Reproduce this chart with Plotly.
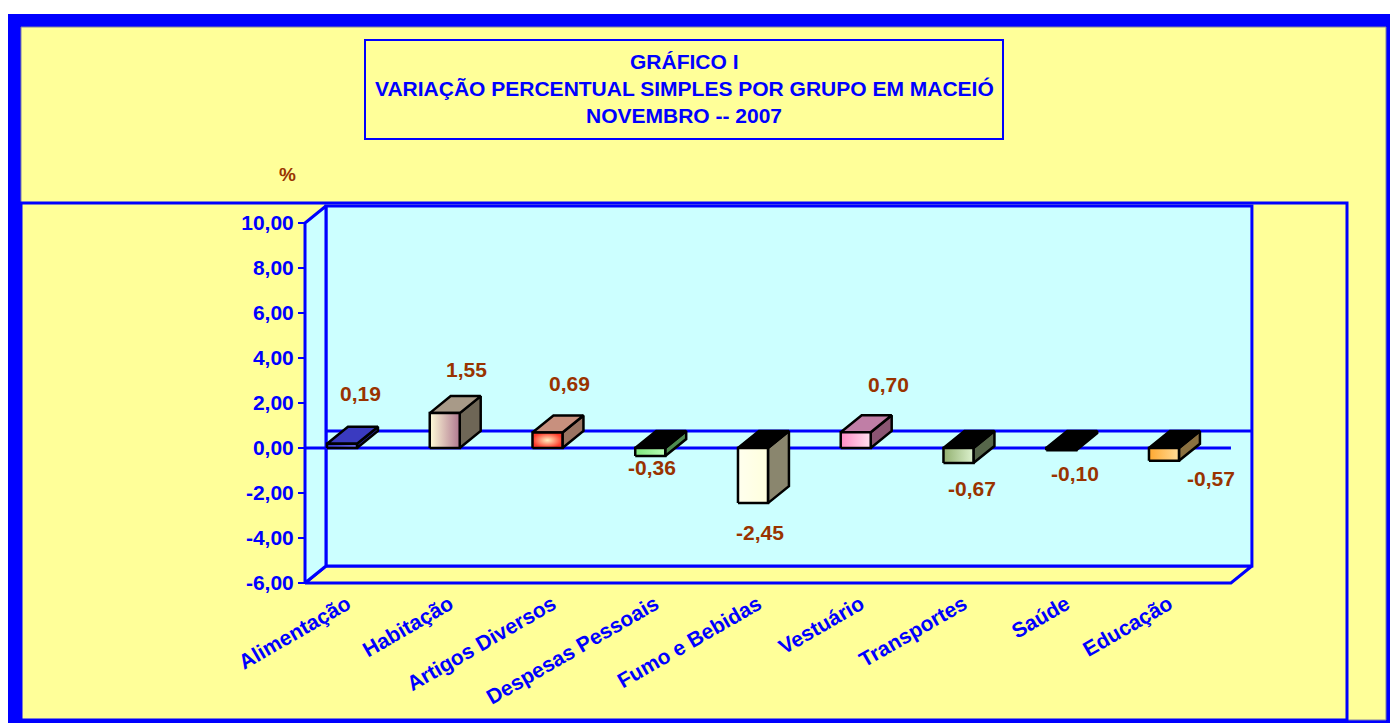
import plotly.graph_objects as go

# ---------------- data ----------------
categories = ["Alimentação", "Habitação", "Artigos Diversos", "Despesas Pessoais",
              "Fumo e Bebidas", "Vestuário", "Transportes", "Saúde", "Educação"]
values = [0.19, 1.55, 0.69, -0.36, -2.45, 0.70, -0.67, -0.10, -0.57]
y_ticks = [-6, -4, -2, 0, 2, 4, 6, 8, 10]
y_tick_labels = ["-6,00", "-4,00", "-2,00", "0,00", "2,00", "4,00", "6,00", "8,00", "10,00"]
title_lines = ["GRÁFICO I", "VARIAÇÃO PERCENTUAL SIMPLES POR GRUPO EM MACEIÓ", "NOVEMBRO -- 2007"]
unit_label = "%"

# ---------------- styles ----------------
# value-label offsets in pixels (right, down) relative to bar end
label_dx = [18, 22, 22, 2, 7, 33, 14, 14, 47]
label_dy = [-50, -44, -49, 11, 29, -48, 25, 23, 18]

front_fill = [
    ("horizontal", "#3535C8", "#6A6AE8"),
    ("horizontal", "#FFFCD8", "#B07890"),
    ("radial", "#FFF0C0", "#FF3A2A"),
    ("horizontal", "#7CE87C", "#B8FFB8"),
    ("horizontal", "#FFFFEE", "#FFFFDD"),
    ("horizontal", "#FF8CC4", "#FFE0F0"),
    ("horizontal", "#92B070", "#DDF2CF"),
    ("horizontal", "#2020C0", "#4040E0"),
    ("horizontal", "#FFA830", "#FFDC98"),
]
top_fill = ["#3A3AC0", "#A89A88", "#C8907E", "#000000", "#000000",
            "#C07EA6", "#000000", "#000000", "#000000"]
side_fill = ["#2525A0", "#6E6656", "#9A7462", "#4E8A50", "#8A866E",
             "#8A5572", "#56664A", "#000000", "#8A7040"]

YELLOW = "#FFFF99"
CYAN = "#CCFFFF"
BLUE = "#0000FF"
BROWN = "#993300"
FONT = "Arial, Liberation Sans, sans-serif"

# geometry (data units)
X_LEFT, X_RIGHT = -0.36, 8.652
DX, DY = 0.204, 0.756
HW = 0.146
Y_MIN, Y_MAX = -6, 10
XR = [-0.399, 8.886]
YR = [-6.178, 10.844]

# figure pixel layout (page margin removed, figure fills the window)
W, H = 1390, 723
L, R, T, B = 301, 135, 204, 136
PW, PH = W - L - R, H - T - B


def px(fx):
    return (fx - L) / PW


def py(fy):
    return (H - B - fy) / PH


fig = go.Figure()


def poly(xs, ys, fill, line_color="black", lw=2.5, grad=None):
    kw = dict(x=list(xs) + [xs[0]], y=list(ys) + [ys[0]], mode="lines", fill="toself",
              fillcolor=fill, line=dict(color=line_color, width=lw),
              hoverinfo="skip", showlegend=False)
    if grad is not None:
        kw["fillgradient"] = dict(type=grad[0], colorscale=[[0, grad[1]], [1, grad[2]]])
    fig.add_trace(go.Scatter(**kw))


# floor
poly([X_LEFT, X_RIGHT, X_RIGHT + DX, X_LEFT + DX],
     [Y_MIN, Y_MIN, Y_MIN + DY, Y_MIN + DY], YELLOW, BLUE, 3)
# back wall
poly([X_LEFT + DX, X_RIGHT + DX, X_RIGHT + DX, X_LEFT + DX],
     [Y_MIN + DY, Y_MIN + DY, Y_MAX + DY, Y_MAX + DY], CYAN, BLUE, 3)
# left wall
poly([X_LEFT, X_LEFT, X_LEFT + DX, X_LEFT + DX],
     [Y_MIN, Y_MAX, Y_MAX + DY, Y_MIN + DY], CYAN, BLUE, 3)
# back zero line
fig.add_trace(go.Scatter(x=[X_LEFT + DX, X_RIGHT + DX], y=[DY, DY], mode="lines",
                         line=dict(color=BLUE, width=3), hoverinfo="skip", showlegend=False))
# front zero line
fig.add_trace(go.Scatter(x=[X_LEFT, X_RIGHT], y=[0, 0], mode="lines",
                         line=dict(color=BLUE, width=3), hoverinfo="skip", showlegend=False))

# 3D bars
for i, v in enumerate(values):
    x0, x1 = i - HW, i + HW
    lo, hi = min(0, v), max(0, v)
    # side face
    poly([x1, x1, x1 + DX, x1 + DX], [lo, hi, hi + DY, lo + DY], side_fill[i])
    # top face
    poly([x0, x1, x1 + DX, x0 + DX], [hi, hi, hi + DY, hi + DY], top_fill[i])
    # front face
    poly([x0, x1, x1, x0], [lo, lo, hi, hi], front_fill[i][1], grad=front_fill[i])

# value labels
for i, v in enumerate(values):
    fig.add_annotation(x=i, y=v, xref="x", yref="y",
                       text="<b>" + f"{v:.2f}".replace(".", ",") + "</b>",
                       showarrow=False, xshift=label_dx[i], yshift=-label_dy[i],
                       font=dict(family=FONT, size=21, color=BROWN))

# decorations
shapes = [
    dict(type="rect", xref="paper", yref="paper", x0=px(8), x1=px(W + 10), y0=py(14), y1=py(H + 10),
         fillcolor=BLUE, line=dict(width=0), layer="below"),
    dict(type="rect", xref="paper", yref="paper", x0=px(21), x1=px(1386), y0=py(27), y1=py(720),
         fillcolor=YELLOW, line=dict(color="#8080A0", width=1), layer="below"),
    dict(type="rect", xref="paper", yref="paper", x0=px(21), x1=px(1347), y0=py(203), y1=py(720),
         fillcolor="rgba(0,0,0,0)", line=dict(color=BLUE, width=3), layer="below"),
    dict(type="rect", xref="paper", yref="paper", x0=px(365), x1=px(1003), y0=py(40), y1=py(139),
         fillcolor=YELLOW, line=dict(color=BLUE, width=2), layer="below"),
]
fig.update_layout(shapes=shapes)

for k, line in enumerate(title_lines):
    fig.add_annotation(x=px(684), y=py(62 + 27 * k), xref="paper", yref="paper",
                       text="<b>" + line + "</b>", showarrow=False,
                       xanchor="center", yanchor="middle",
                       font=dict(family=FONT, size=21, color=BLUE))

fig.add_annotation(x=px(287), y=py(174), xref="paper", yref="paper",
                   text="<b>" + unit_label + "</b>", showarrow=False,
                   xanchor="center", yanchor="middle",
                   font=dict(family=FONT, size=19, color=BROWN))

fig.update_layout(
    width=W, height=H,
    margin=dict(l=L, r=R, t=T, b=B, pad=0),
    paper_bgcolor="white",
    plot_bgcolor="rgba(0,0,0,0)",
    showlegend=False,
    xaxis=dict(range=XR, tickmode="array", tickvals=list(range(len(categories))),
               ticktext=["<b>" + c + "</b>" for c in categories], tickangle=-30,
               ticklabelshift=5,
               showgrid=False, zeroline=False, showline=False, ticks="",
               tickfont=dict(family=FONT, size=21, color=BLUE), fixedrange=True),
    yaxis=dict(range=YR, tickmode="array", tickvals=y_ticks,
               ticktext=["<b>" + t + "</b>" for t in y_tick_labels],
               anchor="free", position=px(305),
               showgrid=False, zeroline=False, showline=False,
               ticks="outside", ticklen=7, tickwidth=2, tickcolor=BLUE,
               tickfont=dict(family=FONT, size=21, color=BLUE), fixedrange=True),
)

fig.write_html(
    "out.html",
    config={"displayModeBar": False, "staticPlot": True},
    post_script=("document.body.style.margin='0';"
                 "document.body.style.overflow='hidden';"
                 "document.documentElement.style.overflow='hidden';"),
)
